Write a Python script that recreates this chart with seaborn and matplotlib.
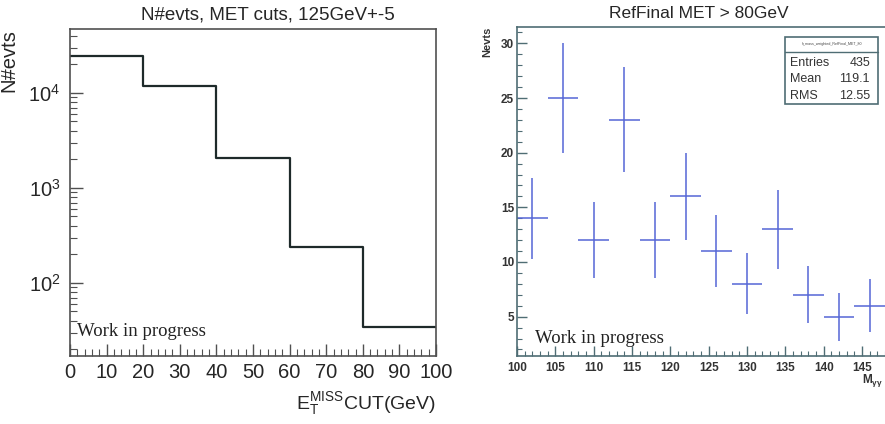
import matplotlib
matplotlib.use("Agg")

import matplotlib.pyplot as plt
import matplotlib.ticker as mtick
from matplotlib.patches import Rectangle
from matplotlib.lines import Line2D
import seaborn as sns

# ── Data ────────────────────────────────────────────────────────────────────
cut_edges = [0, 20, 40, 60, 80, 100]
n_evts = [24500, 11800, 2070, 240, 34]

mass_centers = [102, 106, 110, 114, 118, 122, 126, 130, 134, 138, 142, 146]
mass_counts = [14, 25, 12, 23, 12, 16, 11, 8, 13, 7, 5, 6]
mass_err = [3.7, 5.0, 3.5, 4.8, 3.5, 4.0, 3.3, 2.8, 3.6, 2.6, 2.2, 2.4]
bin_half = 2
mass_ticks = [100, 105, 110, 115, 120, 125, 130, 135, 140, 145]

stats_rows = [("Entries", "435"), ("Mean", "119.1"), ("RMS", "12.55")]

# ── Style ───────────────────────────────────────────────────────────────────
sns.set_theme(style="ticks")
plt.rcParams["font.family"] = ["Liberation Sans", "DejaVu Sans"]

SPINE_L = "#505050"
SPINE_R = "#4f6d74"
BLUE = "#5566d6"

fig = plt.figure(figsize=(8.85, 4.24), dpi=100)
fig.patch.set_facecolor("white")

# ── Left: N#evts vs MET cut ─────────────────────────────────────────────────
ax1 = fig.add_axes([0.0791, 0.1604, 0.4136, 0.7712])
sns.histplot(x=cut_edges[:-1], weights=n_evts, bins=cut_edges,
             element="step", fill=False, color="#1e2a2a", linewidth=1.6, ax=ax1)
ax1.set_yscale("log")
ax1.set_xlim(0, 100)
ax1.set_ylim(17, 47000)
ax1.xaxis.set_major_locator(mtick.MultipleLocator(10))
ax1.xaxis.set_minor_locator(mtick.MultipleLocator(2))
ax1.tick_params(axis="both", which="major", direction="in", length=9,
                width=1, color=SPINE_L, labelsize=14.5, pad=5)
ax1.tick_params(axis="both", which="minor", direction="in", length=5,
                width=0.8, color=SPINE_L)
ax1.tick_params(axis="y", which="major", pad=7)
for s in ax1.spines.values():
    s.set_color(SPINE_L)
    s.set_linewidth(1.2)
ax1.set_ylabel("N#evts", fontsize=14.5, loc="top")
ax1.yaxis.set_label_coords(-0.142, 1.0)
ax1.set_xlabel(r"$\mathregular{E_T^{MISS}}$CUT(GeV)", fontsize=14, loc="right")
ax1.xaxis.set_label_coords(1.0, -0.105)
ax1.xaxis.label.set_va("top")
ax1.text(0.019, 0.076, "Work in progress", transform=ax1.transAxes,
         fontsize=13.5, family="Liberation Serif", color="#222222", va="center")
fig.text(268 / 885, 1 - 15 / 424, "N#evts, MET cuts, 125GeV+-5",
         ha="center", va="center", fontsize=13.5)

# ── Right: diphoton mass, MET > 80 GeV ──────────────────────────────────────
ax2 = fig.add_axes([0.5842, 0.1604, 0.4333, 0.7759])
ax2.errorbar(mass_centers, mass_counts, yerr=mass_err, xerr=bin_half,
             fmt="none", ecolor=BLUE, elinewidth=1.1, capsize=0)
ax2.set_xlim(100, 150)
ax2.set_ylim(1.4, 31.5)
ax2.xaxis.set_major_locator(mtick.FixedLocator(mass_ticks))
ax2.xaxis.set_minor_locator(mtick.MultipleLocator(1))
ax2.yaxis.set_major_locator(mtick.FixedLocator([5, 10, 15, 20, 25, 30]))
ax2.yaxis.set_minor_locator(mtick.MultipleLocator(1))
ax2.tick_params(axis="both", which="major", direction="in", length=7,
                width=1, color=SPINE_R, labelsize=8.5, pad=4)
ax2.tick_params(axis="both", which="minor", direction="in", length=3.5,
                width=0.8, color=SPINE_R)
ax2.tick_params(axis="y", which="major", pad=2)
for lab in ax2.get_xticklabels() + ax2.get_yticklabels():
    lab.set_fontweight("bold")
    lab.set_color("#333333")
for s in ax2.spines.values():
    s.set_color(SPINE_R)
    s.set_linewidth(1.2)
ax2.set_ylabel("Nevts", fontsize=8, fontweight="bold", loc="top", color="#333333")
ax2.yaxis.set_label_coords(-0.065, 1.0)
ax2.text(0.047, 0.052, "Work in progress", transform=ax2.transAxes,
         fontsize=13.5, family="Liberation Serif", color="#222222", va="center")
fig.text(699 / 885, 1 - 13 / 424, "RefFinal MET > 80GeV",
         ha="center", va="center", fontsize=12.5)
fig.text(883 / 885, 1 - 372 / 424, r"$\mathregular{M_{\gamma\gamma}}$",
         ha="right", va="top", fontsize=8.5, fontweight="bold", color="#333333")

# stats box
bx0, bx1 = 785 / 885, 878 / 885
by0, by1 = 1 - 104 / 424, 1 - 37 / 424
fig.add_artist(Rectangle((bx0, by0), bx1 - bx0, by1 - by0, transform=fig.transFigure,
                         facecolor="white", edgecolor=SPINE_R, linewidth=1.2))
fig.add_artist(Line2D([bx0, bx1], [1 - 52 / 424] * 2, transform=fig.transFigure,
                      color=SPINE_R, linewidth=1))
fig.text((bx0 + bx1) / 2, 1 - 44.5 / 424, "h_mass_weighted_RefFinal_MET_80",
         ha="center", va="center", fontsize=2.6, color="#444444")
for i, (name, val) in enumerate(stats_rows):
    yy = 1 - (63 + 16.5 * i) / 424
    fig.text(790 / 885, yy, name, ha="left", va="center", fontsize=9, color="#333333")
    fig.text(870 / 885, yy, val, ha="right", va="center", fontsize=9, color="#333333")

fig.savefig("out.png", dpi=100, facecolor="white")
